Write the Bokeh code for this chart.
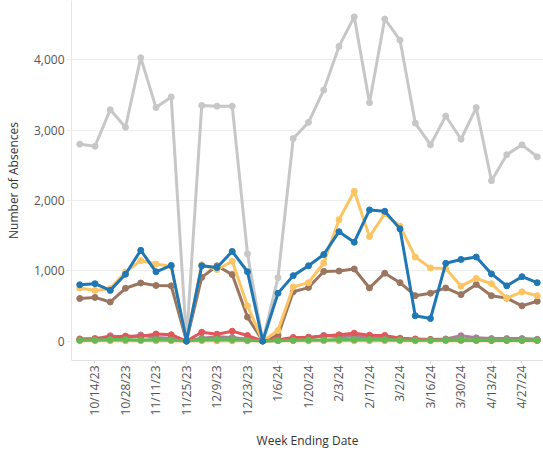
import numpy as np
from bokeh.plotting import figure
from bokeh.models import Range1d, FixedTicker, NumeralTickFormatter
from bokeh.embed import file_html
from bokeh.resources import INLINE

dates = ["10/7/23", "10/14/23", "10/21/23", "10/28/23", "11/4/23", "11/11/23", "11/18/23",
         "11/25/23", "12/2/23", "12/9/23", "12/16/23", "12/23/23", "12/30/23", "1/6/24",
         "1/13/24", "1/20/24", "1/27/24", "2/3/24", "2/10/24", "2/17/24", "2/24/24", "3/2/24",
         "3/9/24", "3/16/24", "3/23/24", "3/30/24", "4/6/24", "4/13/24", "4/20/24", "4/27/24",
         "5/4/24"]

gray = [2800, 2770, 3290, 3040, 4030, 3320, 3470, 0, 3350, 3340, 3340, 1240, 0, 900, 2880,
        3110, 3570, 4190, 4610, 3390, 4580, 4280, 3100, 2790, 3200, 2870, 3320, 2280, 2650,
        2790, 2620]
brown = [605, 620, 555, 750, 825, 790, 785, 0, 905, 1070, 945, 340, 0, 80, 700, 760, 990,
         995, 1025, 755, 965, 830, 645, 680, 755, 660, 805, 645, 610, 500, 565]
orange = [755, 720, 745, 980, 1145, 1095, 1060, 0, 1085, 1015, 1135, 500, 0, 150, 770, 830,
          1110, 1725, 2130, 1485, 1810, 1635, 1195, 1040, 1030, 780, 890, 815, 610, 700, 645]
blue = [800, 815, 720, 950, 1290, 985, 1075, 0, 1070, 1045, 1275, 985, 0, 680, 930, 1070,
        1230, 1555, 1405, 1865, 1845, 1595, 360, 320, 1105, 1160, 1195, 955, 785, 915, 830]
peach = [5, 5, 5, 5, 5, 5, 5, 0, 5, 5, 5, 5, 0, 5, 5, 5, 5, 5, 5, 5, 5, 5, 5, 5, 5, 5, 5, 5,
         5, 5, 5]
purple = [15, 25, 75, 45, 85, 50, 40, 0, 40, 60, 50, 25, 0, 10, 25, 35, 80, 60, 70, 50, 45, 30,
          20, 20, 30, 75, 45, 35, 35, 35, 25]
red = [30, 35, 55, 70, 65, 100, 90, 0, 125, 97, 140, 78, 0, 20, 50, 55, 73, 88, 111, 83, 80, 40,
       30, 22, 15, 15, 12, 10, 10, 10, 10]
green = [15, 15, 20, 20, 15, 20, 15, 0, 20, 25, 20, 10, 0, 5, 10, 15, 15, 20, 20, 20, 20, 15,
         10, 10, 15, 20, 15, 15, 15, 15, 15]

x_title = "Week Ending Date"
y_title = "Number of Absences"

x = list(range(len(dates)))

p = figure(width=543, height=453, output_backend="svg", toolbar_location=None,
           x_range=Range1d(-0.54, 30.41), y_range=Range1d(-277, 4843),
           min_border_left=71, min_border_right=0, min_border_top=0, min_border_bottom=93)
p.outline_line_color = None
p.background_fill_color = "white"
p.border_fill_color = "white"

series = [
    (gray, "#c7c7c7"),
    (brown, "#9a7660"),
    (orange, "#fcc463"),
    (peach, "#f2a46e"),
    (purple, "#b07aa1"),
    (red, "#e15759"),
    (green, "#63ba55"),
    (blue, "#1f77b4"),
]
for vals, col in series:
    p.line(x, vals, line_color=col, line_width=3, line_join="round")
    p.scatter(x, vals, size=6, fill_color=col, line_color=col)

font = "Open Sans"
tick_idx = x[1::2]
p.xaxis.ticker = FixedTicker(ticks=tick_idx)
p.xaxis.major_label_overrides = {i: dates[i] for i in tick_idx}
p.xaxis.major_label_orientation = np.pi / 2
p.xaxis.axis_label = x_title
p.xaxis.minor_tick_line_color = None
p.xaxis.major_tick_out = 3
p.xaxis.major_tick_in = 0
p.xaxis.major_tick_line_color = "#dddddd"
p.xaxis.major_label_standoff = 2
p.xaxis.axis_label_standoff = 14
p.xaxis.axis_line_color = "#e0e0e0"

p.yaxis.ticker = FixedTicker(ticks=[0, 1000, 2000, 3000, 4000])
p.yaxis.formatter = NumeralTickFormatter(format="0,0")
p.yaxis.axis_label = y_title
p.yaxis.minor_tick_line_color = None
p.yaxis.major_tick_out = 5
p.yaxis.major_tick_in = 0
p.yaxis.major_tick_line_color = "#eeeeee"
p.yaxis.major_label_standoff = 2
p.yaxis.axis_label_standoff = 9
p.yaxis.axis_line_color = "#e6e6e6"

for ax in (p.xaxis, p.yaxis):
    ax.major_label_text_font = font
    ax.major_label_text_font_size = "12px"
    ax.major_label_text_color = "#555555"
    ax.axis_label_text_font = font
    ax.axis_label_text_font_size = "12px"
    ax.axis_label_text_font_style = "normal"
    ax.axis_label_text_color = "#333333"

p.xgrid.grid_line_color = None
p.ygrid.grid_line_color = "#eeeeee"
p.ygrid.grid_line_width = 1

open("out.html", "w").write(file_html(p, INLINE))
